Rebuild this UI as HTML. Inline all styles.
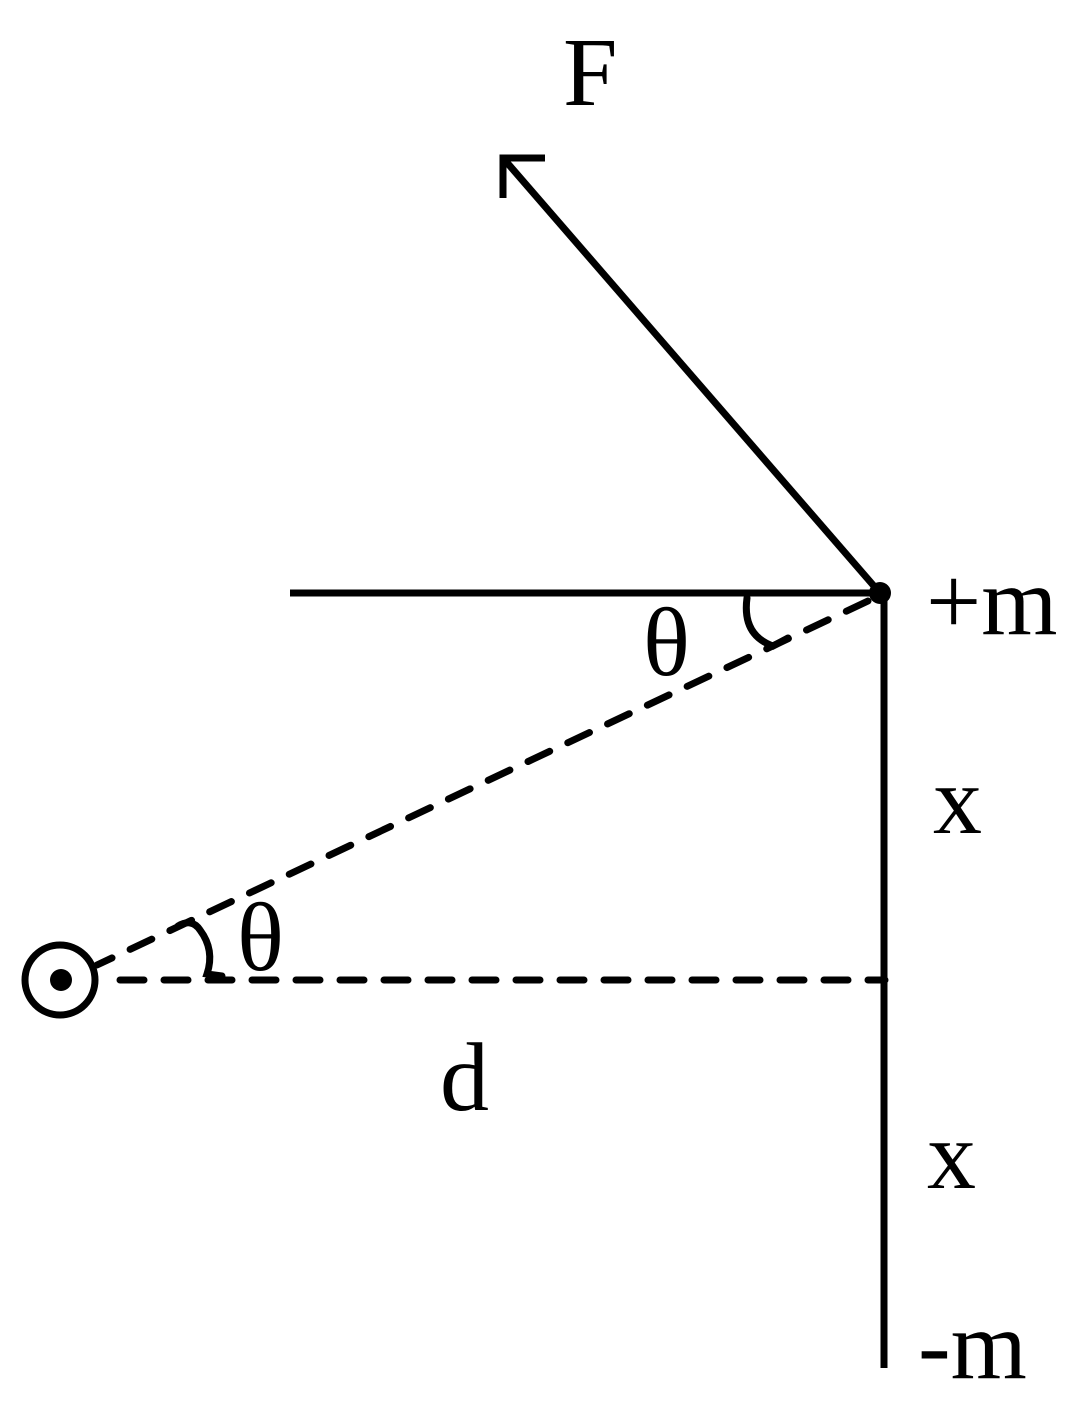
<!DOCTYPE html>
<html><head><style>
html,body{margin:0;padding:0;background:#fff;}
svg{display:block;}
text{font-family:"Liberation Serif",serif;fill:#000;}
</style></head><body>
<svg width="1080" height="1422" viewBox="0 0 1080 1422" xmlns="http://www.w3.org/2000/svg">
<g stroke="#000" stroke-width="7" fill="none">
<line x1="880" y1="593" x2="503" y2="158"/>
<polyline points="545,158 503,158 503,198"/>
<line x1="290" y1="593" x2="880" y2="593"/>
<line x1="884" y1="593" x2="884" y2="1368"/>
<line x1="868" y1="601" x2="97" y2="965" stroke-dasharray="24 20" stroke-linecap="round"/>
<line x1="120" y1="980" x2="885" y2="980" stroke-dasharray="24 20" stroke-linecap="round"/>
<path d="M747,598 Q742,635 773,646 L788,638" stroke-linecap="round"/>
<path d="M178,926 Q192,918 200,930 Q215,950 207,974 L222,976" stroke-linecap="round"/>
<circle cx="60" cy="980" r="35"/>
</g>
<circle cx="880" cy="593" r="11" fill="#000"/>
<circle cx="61" cy="980" r="11" fill="#000"/>
<g font-size="98">
<text x="563" y="105">F</text>
<text x="926" y="634">+m</text>
<text x="643" y="675">θ</text>
<text x="933" y="833">x</text>
<text x="237" y="970">θ</text>
<text x="440" y="1110">d</text>
<text x="927" y="1188">x</text>
<text x="918" y="1378">-m</text>
</g>
</svg>
</body></html>
